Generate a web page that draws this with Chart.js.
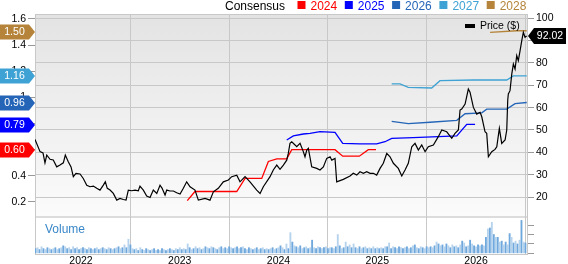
<!DOCTYPE html>
<html>
<head>
<meta charset="utf-8">
<script src="https://cdn.jsdelivr.net/npm/chart.js@4.4.1/dist/chart.umd.min.js"></script>
<style>
  html, body { margin: 0; padding: 0; background: #fff; }
  #wrap { position: relative; width: 568px; height: 264px; }
</style>
</head>
<body>
<div id="wrap"><canvas id="chart" width="568" height="264"></canvas></div>
<script>
// ---- data ----
const yearTicks = [2022, 2023, 2024, 2025, 2026];
const epsTicks = [0.2, 0.4, 0.6, 0.8, 1.0, 1.2, 1.4, 1.6];
const priceTicks = [20, 30, 40, 50, 60, 70, 80, 90, 100];
const volumeTicks = [0, 10, 20, 30]; // thousands

// weekly price, x in decimal years
const priceDates = [
  2021.534, 2021.585, 2021.615, 2021.635, 2021.653, 2021.686, 2021.719, 2021.754, 2021.787, 2021.821,
  2021.841, 2021.871, 2021.899, 2021.922, 2021.949, 2021.990, 2022.023, 2022.058, 2022.091, 2022.125,
  2022.159, 2022.192, 2022.226, 2022.246, 2022.266, 2022.294, 2022.327, 2022.362, 2022.395, 2022.428,
  2022.456, 2022.479, 2022.513, 2022.547, 2022.580, 2022.597, 2022.631, 2022.665, 2022.699, 2022.732,
  2022.767, 2022.800, 2022.820, 2022.851, 2022.868, 2022.901, 2022.935, 2022.969, 2023.003, 2023.036,
  2023.070, 2023.104, 2023.154, 2023.188, 2023.256, 2023.306, 2023.340, 2023.390, 2023.441, 2023.492,
  2023.526, 2023.577, 2023.610, 2023.661, 2023.711, 2023.779, 2023.813, 2023.846, 2023.914, 2023.947,
  2023.982, 2024.015, 2024.049, 2024.083, 2024.099, 2024.116, 2024.134, 2024.167, 2024.184, 2024.218,
  2024.251, 2024.268, 2024.286, 2024.302, 2024.336, 2024.387, 2024.420, 2024.454, 2024.488, 2024.522,
  2024.539, 2024.572, 2024.589, 2024.656, 2024.724, 2024.757, 2024.792, 2024.825, 2024.859, 2024.893,
  2024.927, 2024.960, 2024.994, 2025.028, 2025.061, 2025.096, 2025.129, 2025.163, 2025.213, 2025.248,
  2025.281, 2025.314, 2025.349, 2025.382, 2025.416, 2025.450, 2025.484, 2025.517, 2025.568, 2025.618,
  2025.653, 2025.703, 2025.754, 2025.787, 2025.821, 2025.838, 2025.855, 2025.889, 2025.922, 2025.939,
  2025.973, 2026.007, 2026.041, 2026.058, 2026.091, 2026.108, 2026.125, 2026.159, 2026.192, 2026.210,
  2026.236, 2026.260, 2026.294, 2026.311, 2026.321, 2026.327, 2026.344, 2026.362, 2026.378, 2026.395,
  2026.412, 2026.428, 2026.446, 2026.463, 2026.479, 2026.496, 2026.513
];
const priceValues = [
  45.8, 40.3, 39.7, 35.3, 38.8, 36.9, 36.6, 33.5, 34.3, 35.3,
  38.8, 35.8, 33.5, 29.1, 30.6, 30.3, 28.3, 25.3, 24.6, 24.9,
  23.9, 23.1, 25.3, 26.8, 23.9, 23.1, 21.6, 18.6, 19.4, 18.9,
  18.6, 23.1, 22.8, 23.1, 22.8, 24.9, 23.1, 20.4, 19.8, 23.1,
  21.6, 25.3, 24.0, 20.9, 23.1, 22.7, 22.7, 21.9, 21.3, 23.9,
  26.8, 24.6, 23.1, 18.6, 19.4, 18.6, 22.3, 23.9, 26.8, 27.6,
  29.1, 29.8, 26.8, 29.1, 26.8, 23.1, 21.6, 24.6, 29.1, 32.1,
  34.3, 32.4, 34.3, 36.5, 39.5, 44.0, 44.7, 43.3, 42.5, 44.0,
  40.3, 38.0, 41.0, 41.8, 33.5, 32.8, 32.1, 33.5, 37.3, 38.0,
  36.5, 37.3, 26.8, 27.9, 29.4, 30.6, 29.8, 31.3, 30.6, 31.3,
  30.6, 30.6, 29.8, 32.8, 35.1, 39.5, 38.0, 35.1, 32.8, 29.4,
  32.1, 35.1, 42.5, 44.0, 41.0, 43.3, 40.3, 42.5, 43.3, 47.0,
  50.0, 49.2, 46.3, 48.5, 50.0, 58.9, 59.4, 61.6, 68.3, 66.9,
  60.1, 57.1, 57.9, 55.9, 49.2, 48.5, 38.0, 40.3, 41.3, 42.5,
  50.7, 44.0, 45.5, 50.0, 63.4, 66.1, 67.6, 75.1, 79.5, 77.3,
  83.3, 81.0, 85.5, 90.0, 93.7, 91.5, 92.02
];
const lastPrice = 92.02;

// consensus EPS by fiscal year
const seriesNames = ['2024', '2025', '2026', '2027', '2028'];
const eps2024Dates = [2023.076, 2023.154, 2023.577, 2023.661, 2023.830, 2023.897, 2023.982, 2024.083, 2024.134, 2024.572, 2024.650, 2024.818, 2024.909, 2024.987];
const eps2024 = [0.21, 0.28, 0.28, 0.38, 0.38, 0.51, 0.53, 0.53, 0.60, 0.60, 0.55, 0.55, 0.60, 0.60];
const eps2025Dates = [2024.083, 2024.150, 2024.251, 2024.319, 2024.420, 2024.572, 2024.650, 2024.825, 2024.994, 2025.078, 2025.146, 2025.365, 2025.805, 2025.906, 2025.990];
const eps2025 = [0.674, 0.705, 0.720, 0.725, 0.738, 0.733, 0.649, 0.644, 0.644, 0.661, 0.687, 0.692, 0.705, 0.794, 0.794];
const eps2026Dates = [2025.146, 2025.314, 2025.534, 2025.805, 2025.889, 2026.058, 2026.108, 2026.311, 2026.395, 2026.513];
const eps2026 = [0.816, 0.800, 0.810, 0.825, 0.875, 0.882, 0.910, 0.910, 0.952, 0.961];
const eps2027Dates = [2025.146, 2025.230, 2025.314, 2025.551, 2025.635, 2025.973, 2026.311, 2026.378, 2026.513];
const eps2027 = [1.103, 1.103, 1.077, 1.072, 1.128, 1.133, 1.133, 1.164, 1.164];
const eps2028Dates = [2026.142, 2026.412, 2026.513];
const eps2028 = [1.498, 1.510, 1.510];
const epsLatest = [0.60, 0.79, 0.96, 1.16, 1.50];

// weekly volume (thousands), first week and week length in years
const volumeStart = 2021.54;
const volumeStep = 0.02;
const volumeValues = [
  5, 6, 4, 7, 5, 4, 6, 5, 4, 5, 6, 4, 5, 6, 8, 7, 5, 6, 4, 7, 5, 6, 4, 5, 6,
  5, 4, 6, 5, 4, 5, 6, 4, 5, 6, 5, 4, 6, 5, 4, 5, 6, 7, 5, 6, 9, 6, 15, 9, 5,
  4, 5, 3, 6, 4, 3, 5, 4, 3, 4, 5, 3, 4, 3, 5, 4, 3, 4, 5, 4, 3, 5, 4, 6, 4,
  5, 4, 10, 6, 4, 5, 7, 5, 6, 4, 5, 7, 6, 5, 7, 6, 5, 4, 6, 7, 5, 6, 5, 7, 6,
  5, 6, 7, 5, 6, 7, 5, 4, 6, 5, 4, 5, 6, 4, 5, 6, 4, 5, 4, 5, 6, 4, 5, 6, 8,
  6, 4, 10, 5, 22, 12, 8, 7, 6, 8, 5, 6, 7, 5, 6, 14, 6, 5, 7, 6, 5, 6, 7, 5, 6,
  6, 5, 7, 20, 8, 5, 6, 12, 7, 9, 6, 10, 6, 5, 7, 5, 6, 7, 5, 6, 5, 7, 5, 6, 5,
  6, 5, 7, 7, 11, 5, 7, 6, 5, 7, 6, 5, 6, 7, 5, 6, 8, 9, 6, 5, 7, 6, 5, 7, 6,
  7, 6, 8, 12, 10, 8, 9, 7, 10, 8, 6, 9, 7, 8, 6, 9, 13, 11, 7, 8, 14, 10, 8, 7, 9,
  8, 9, 8, 17, 26, 27, 33, 20, 17, 17, 12, 13, 9, 12, 9, 21, 17, 11, 13, 10, 14, 35, 12, 11
];

// ---- styles ----
const FONT = "'Liberation Sans', Arial, sans-serif";
const seriesColors = ['#ff0000', '#0000ff', '#2465b8', '#3ea2d4', '#b5843a'];
const gridColor = '#c8c8c8';

Chart.defaults.font.family = FONT;
Chart.defaults.font.size = 10.5;
Chart.defaults.color = '#000';

const toXY = (xs, ys) => xs.map((x, i) => ({ x: x, y: ys[i] }));
const epsSets = [
  toXY(eps2024Dates, eps2024), toXY(eps2025Dates, eps2025), toXY(eps2026Dates, eps2026),
  toXY(eps2027Dates, eps2027), toXY(eps2028Dates, eps2028)
];
const volumeData = volumeValues.map((v, i) => ({ x: volumeStart + i * volumeStep, y: v }));

const fixedTicks = list => scale => { scale.ticks = list.map(v => ({ value: v })); };

// panel backgrounds (price panel gradient + separator)
const panels = {
  id: 'panels',
  beforeDraw(chart) {
    const { ctx, chartArea: a } = chart;
    const split = a.bottom - 38;
    ctx.save();
    ctx.fillStyle = '#fff';
    ctx.fillRect(0, 0, chart.width, chart.height);
    const g = ctx.createLinearGradient(0, a.top, 0, split);
    g.addColorStop(0, '#e3e3e3');
    g.addColorStop(1, '#fbfbfb');
    ctx.fillStyle = g;
    ctx.fillRect(a.left, a.top, a.right - a.left, split - a.top);
    ctx.fillStyle = '#dcdcdc';
    ctx.fillRect(a.left, split, a.right - a.left, 2);
    ctx.restore();
  }
};

// legend, labels, flags
const overlay = {
  id: 'overlay',
  afterDraw(chart) {
    const { ctx, chartArea: a, scales } = chart;
    ctx.save();

    // top border
    ctx.strokeStyle = gridColor;
    ctx.lineWidth = 1;
    ctx.beginPath();
    ctx.moveTo(a.left, a.top + 0.5);
    ctx.lineTo(a.right, a.top + 0.5);
    ctx.stroke();

    // consensus legend
    ctx.font = '12px ' + FONT;
    ctx.textBaseline = 'alphabetic';
    ctx.textAlign = 'left';
    ctx.fillStyle = '#000';
    ctx.fillText('Consensus', 225, 10);
    seriesNames.forEach((name, i) => {
      const x = 297.5 + i * 47.3;
      ctx.fillStyle = seriesColors[i];
      ctx.fillRect(x, 1, 8, 8);
      ctx.fillText(name, x + 13, 10);
    });

    // price legend
    ctx.fillStyle = '#000';
    ctx.fillRect(465, 24, 10, 4);
    ctx.font = '10.5px ' + FONT;
    ctx.textBaseline = 'middle';
    ctx.fillText('Price ($)', 480, 26.5);

    // volume label
    ctx.font = '12px ' + FONT;
    ctx.fillStyle = '#3a87c8';
    ctx.textBaseline = 'alphabetic';
    ctx.fillText('Volume', 45, 233);

    // EPS flags
    ctx.font = '10.5px ' + FONT;
    ctx.textAlign = 'center';
    ctx.textBaseline = 'middle';
    epsLatest.forEach((v, i) => {
      const y = Math.round(scales.yEps.getPixelForValue(v));
      ctx.fillStyle = seriesColors[i];
      ctx.beginPath();
      ctx.moveTo(0, y - 7.5);
      ctx.lineTo(29, y - 7.5);
      ctx.lineTo(35, y);
      ctx.lineTo(29, y + 7.5);
      ctx.lineTo(0, y + 7.5);
      ctx.closePath();
      ctx.fill();
      ctx.fillStyle = '#fff';
      ctx.fillText(v.toFixed(2), 14.5, y + 0.5);
    });

    // last price box
    const py = Math.round(scales.yPrice.getPixelForValue(lastPrice));
    ctx.fillStyle = '#000';
    ctx.beginPath();
    ctx.moveTo(a.right + 1, py);
    ctx.lineTo(a.right + 7, py - 8);
    ctx.lineTo(566, py - 8);
    ctx.lineTo(566, py + 8);
    ctx.lineTo(a.right + 7, py + 8);
    ctx.closePath();
    ctx.fill();
    ctx.fillStyle = '#fff';
    ctx.fillText(lastPrice.toFixed(2), 550, py + 0.5);

    ctx.restore();
  }
};

const datasets = [
  {
    type: 'bar',
    data: volumeData,
    yAxisID: 'yVol',
    backgroundColor: volumeValues.map((v, i) => (i % 2 ? '#b6d3ee' : '#6fa8dc')),
    barThickness: 1.2,
    order: 3
  }
];
epsSets.forEach((set, i) => {
  datasets.push({
    type: 'line',
    data: set,
    yAxisID: 'yEps',
    borderColor: seriesColors[i],
    borderWidth: 1.3,
    pointRadius: 0,
    tension: 0,
    order: 2
  });
});
datasets.push({
  type: 'line',
  data: toXY(priceDates, priceValues),
  yAxisID: 'yPrice',
  borderColor: '#000',
  borderWidth: 1.2,
  pointRadius: 0,
  tension: 0,
  order: 1
});

new Chart(document.getElementById('chart').getContext('2d'), {
  type: 'line',
  data: { datasets: datasets },
  plugins: [panels, overlay],
  options: {
    responsive: false,
    animation: false,
    devicePixelRatio: 1,
    layout: { padding: { top: 14, left: 0, right: 0, bottom: 0 } },
    plugins: { legend: { display: false }, tooltip: { enabled: false } },
    scales: {
      x: {
        type: 'linear',
        min: 2021.534,
        max: 2026.516,
        offset: false,
        afterBuildTicks: fixedTicks(yearTicks),
        afterFit: s => { s.height = 10; },
        grid: { color: gridColor, drawTicks: false },
        border: { color: gridColor },
        ticks: { padding: 1, maxRotation: 0, autoSkip: false, callback: v => String(v) }
      },
      yEps: {
        position: 'left',
        min: -0.198,
        max: 1.638,
        afterBuildTicks: fixedTicks(epsTicks),
        afterFit: s => { s.width = 35; },
        grid: { drawOnChartArea: false, tickLength: 7, tickColor: '#999' },
        border: { color: gridColor },
        ticks: { padding: 2, callback: v => String(+v.toFixed(1)) }
      },
      yVol: {
        position: 'right',
        weight: 0,
        min: -0.7,
        max: 254.6,
        afterBuildTicks: fixedTicks(volumeTicks),
        afterFit: s => { s.width = 0; },
        grid: { drawOnChartArea: false, tickLength: 7, tickColor: '#999' },
        border: { display: false },
        ticks: { padding: 2, callback: v => (v ? v + 'k' : '0') }
      },
      yPrice: {
        position: 'right',
        weight: 1,
        min: -5.5,
        max: 101.9,
        afterBuildTicks: fixedTicks(priceTicks),
        afterFit: s => { s.width = 41; },
        grid: { color: gridColor, tickLength: 7, tickColor: '#999' },
        border: { color: gridColor },
        ticks: { padding: 2, callback: v => String(v) }
      }
    }
  }
});
</script>
</body>
</html>
